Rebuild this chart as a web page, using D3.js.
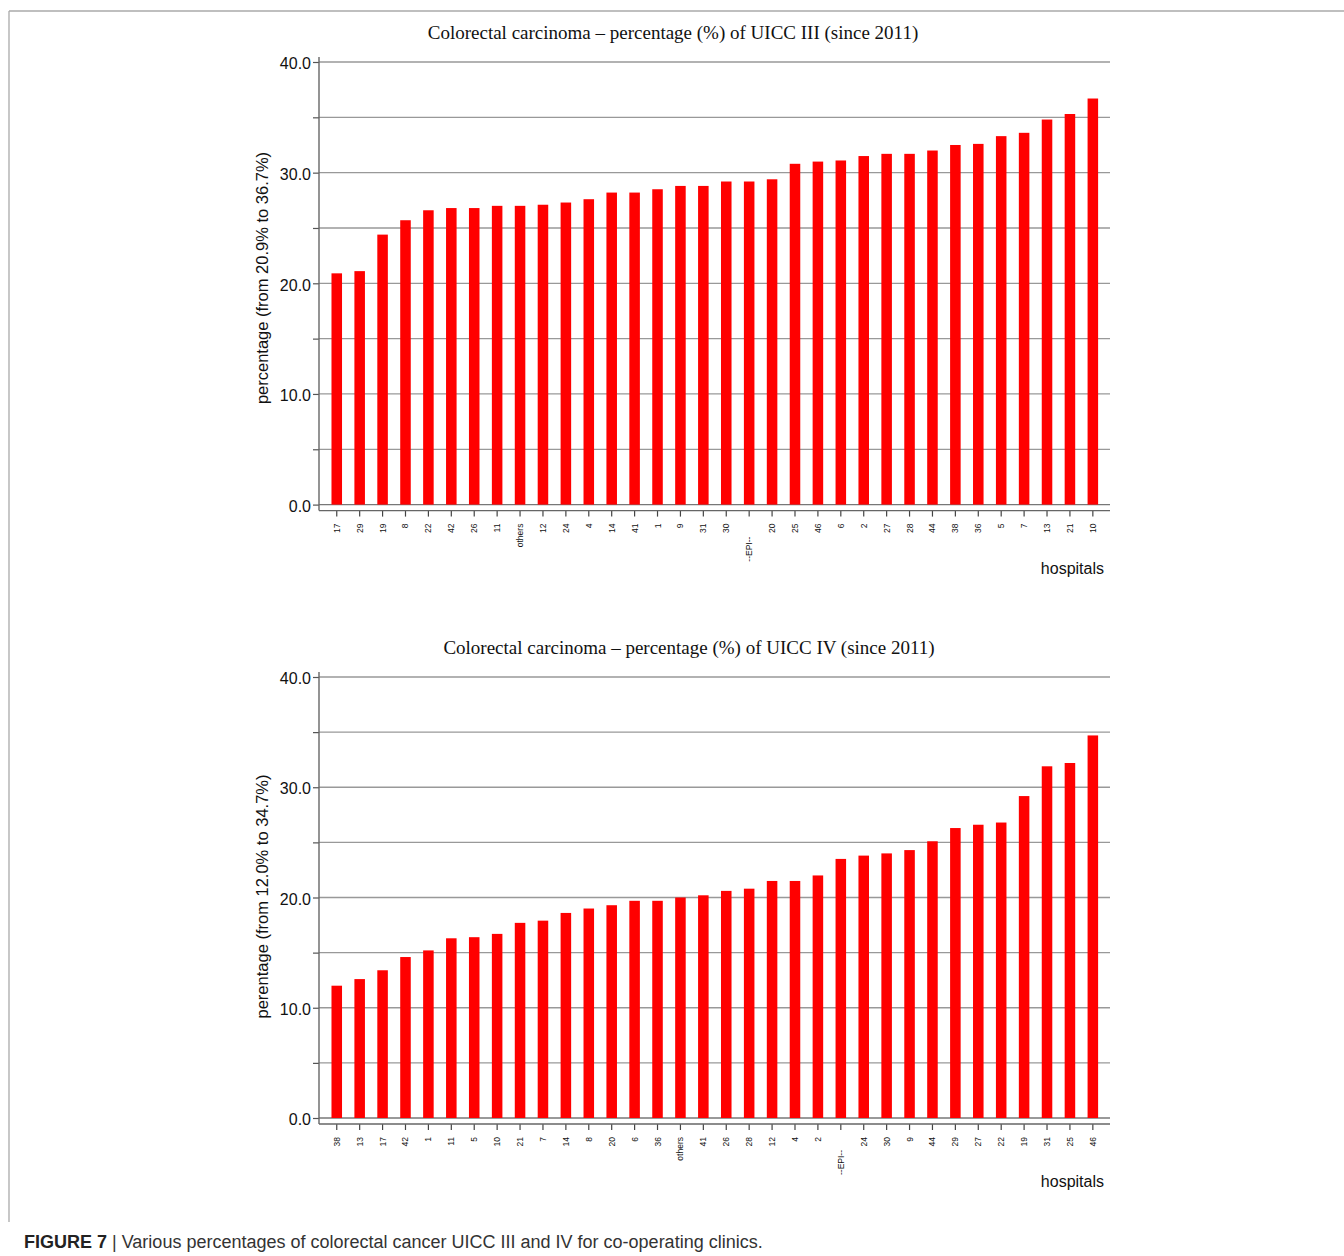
<!DOCTYPE html>
<html>
<head>
<meta charset="utf-8">
<script src="https://cdn.jsdelivr.net/npm/d3@7"></script>
<style>
  html, body { margin: 0; padding: 0; background: #fff; }
  svg { display: block; }
</style>
</head>
<body>
<svg id="chart" width="1344" height="1256"></svg>
<script>
// ---- data ----
const hospitalsIII = ["17","29","19","8","22","42","26","11","others","12","24","4","14","41","1","9","31","30","--EPI--","20","25","46","6","2","27","28","44","38","36","5","7","13","21","10"];
const valuesIII    = [20.9,21.1,24.4,25.7,26.6,26.8,26.8,27.0,27.0,27.1,27.3,27.6,28.2,28.2,28.5,28.8,28.8,29.2,29.2,29.4,30.8,31.0,31.1,31.5,31.7,31.7,32.0,32.5,32.6,33.3,33.6,34.8,35.3,36.7];

const hospitalsIV = ["38","13","17","42","1","11","5","10","21","7","14","8","20","6","36","others","41","26","28","12","4","2","--EPI--","24","30","9","44","29","27","22","19","31","25","46"];
const valuesIV    = [12.0,12.6,13.4,14.6,15.2,16.3,16.4,16.7,17.7,17.9,18.6,19.0,19.3,19.7,19.7,20.0,20.2,20.6,20.8,21.5,21.5,22.0,23.5,23.8,24.0,24.3,25.1,26.3,26.6,26.8,29.2,31.9,32.2,34.7];

const yTicksMajor = [0, 10, 20, 30, 40];
const yTicksAll   = [0, 5, 10, 15, 20, 25, 30, 35, 40];

const titles = [
  "Colorectal carcinoma \u2013 percentage (%) of UICC III (since 2011)",
  "Colorectal carcinoma \u2013 percentage (%) of UICC IV (since 2011)"
];
const yTitles = [
  "percentage (from 20.9% to 36.7%)",
  "perentage (from 12.0% to 34.7%)"
];
const xTitle = "hospitals";

// ---- drawing ----
const svg = d3.select("#chart");

// outer frame lines
svg.append("line").attr("x1", 9).attr("y1", 11).attr("x2", 1344).attr("y2", 11)
  .attr("stroke", "#aaa").attr("stroke-width", 1.3);
svg.append("line").attr("x1", 9).attr("y1", 11).attr("x2", 9).attr("y2", 1222)
  .attr("stroke", "#aaa").attr("stroke-width", 1.3);

function drawPanel(cfg) {
  const g = svg.append("g");
  const axisX = 319, right = 1110;

  const x = d3.scaleBand().domain(cfg.cats).range([325.3, 1104.3]).paddingInner(0.54).paddingOuter(0.27);
  const y = d3.scaleLinear().domain([0, 40]).range([cfg.y0, cfg.y40]);

  // title
  g.append("text").attr("x", cfg.titleX).attr("y", cfg.y40 - 23)
    .attr("text-anchor", "middle")
    .style("font-family", "'Liberation Serif', 'Times New Roman', serif")
    .style("font-size", "19px").attr("fill", "#111")
    .text(cfg.title);

  // grid lines
  g.append("g").selectAll("line").data(yTicksAll).join("line")
    .attr("x1", axisX).attr("x2", right)
    .attr("y1", d => y(d)).attr("y2", d => y(d))
    .attr("stroke", d => d === 0 ? "#777" : "#999").attr("stroke-width", 1.3);

  // y axis
  const yAxis = d3.axisLeft(y).tickValues(yTicksAll).tickSize(6)
    .tickFormat(d => yTicksMajor.includes(d) ? d3.format(".1f")(d) : "");
  const ya = g.append("g").attr("transform", `translate(${axisX},0)`).call(yAxis);
  ya.select(".domain").remove();
  ya.selectAll(".tick line").attr("stroke", "#555").attr("stroke-width", 1.2);
  ya.selectAll(".tick text")
    .style("font-family", "'Liberation Sans', Arial, sans-serif")
    .style("font-size", "16px").attr("fill", "#111").attr("x", -8).attr("dy", "0.42em");
  g.append("line").attr("x1", axisX).attr("x2", axisX)
    .attr("y1", cfg.y40 - 5).attr("y2", cfg.y0 + 6)
    .attr("stroke", "#666").attr("stroke-width", 1.4);

  // bars
  g.append("g").selectAll("rect").data(cfg.vals).join("rect")
    .attr("x", (d, i) => x(cfg.cats[i]))
    .attr("width", x.bandwidth())
    .attr("y", d => y(d))
    .attr("height", d => y(0) - y(d))
    .attr("fill", "#ff0000");

  // x axis
  const xAxisY = cfg.y0 + 6;
  const xAxis = d3.axisBottom(x).tickSize(6).tickSizeOuter(0);
  const xa = g.append("g").attr("transform", `translate(0,${xAxisY})`).call(xAxis);
  xa.select(".domain").remove();
  g.append("line").attr("x1", axisX).attr("x2", right)
    .attr("y1", xAxisY).attr("y2", xAxisY)
    .attr("stroke", "#666").attr("stroke-width", 1.4);
  xa.selectAll(".tick line").attr("stroke", "#444").attr("stroke-width", 1.2);
  xa.selectAll(".tick text")
    .style("font-family", "'Liberation Sans', Arial, sans-serif")
    .style("font-size", "8.5px").attr("fill", "#111")
    .attr("text-anchor", "end")
    .attr("transform", d => `translate(3,${d === "--EPI--" ? 26 : 13}) rotate(-90)`)
    .attr("x", 0).attr("y", 0).attr("dy", null);

  // x title
  g.append("text").attr("x", 1104).attr("y", xAxisY + 63)
    .attr("text-anchor", "end")
    .style("font-family", "'Liberation Sans', Arial, sans-serif")
    .style("font-size", "16px").attr("fill", "#111")
    .text(xTitle);

  // y title
  g.append("text")
    .attr("transform", `translate(268,${cfg.yTitleCenter}) rotate(-90)`)
    .attr("text-anchor", "middle")
    .style("font-family", "'Liberation Sans', Arial, sans-serif")
    .style("font-size", "16.5px").attr("fill", "#111")
    .text(cfg.yTitle);
}

drawPanel({ cats: hospitalsIII, vals: valuesIII, y0: 504.6, y40: 62, title: titles[0], yTitle: yTitles[0], titleX: 673, yTitleCenter: 278 });
drawPanel({ cats: hospitalsIV, vals: valuesIV, y0: 1118, y40: 677, title: titles[1], yTitle: yTitles[1], titleX: 689, yTitleCenter: 896.5 });

// caption
const cap = svg.append("text").attr("x", 24).attr("y", 1248)
  .style("font-family", "'Liberation Sans', Arial, sans-serif")
  .style("font-size", "18px").attr("fill", "#333");
cap.append("tspan").style("font-weight", "bold").attr("fill", "#222").text("FIGURE 7");
cap.append("tspan").text(" | Various percentages of colorectal cancer UICC III and IV for co-operating clinics.");
</script>
</body>
</html>
